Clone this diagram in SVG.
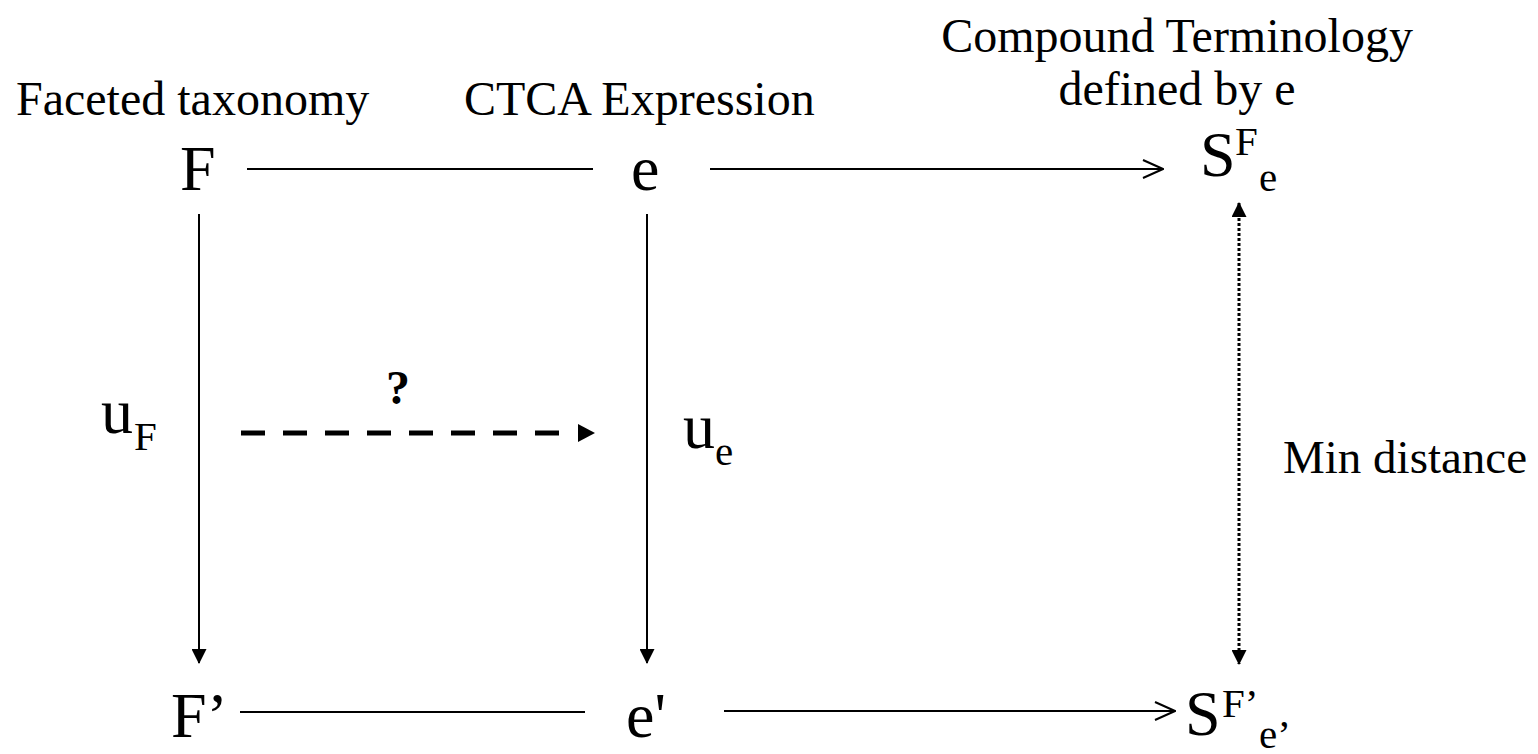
<svg xmlns="http://www.w3.org/2000/svg" width="1538" height="754" viewBox="0 0 1538 754" font-family="'Liberation Serif', 'Times New Roman', serif">
<style>
text{font-family:'Liberation Serif','Times New Roman',serif;fill:#000}
.big{font-size:64px}
.lab{font-size:48px}
.sm{font-size:41px}
.ln{stroke:#000;stroke-width:2;fill:none}
</style>
<defs>
<marker id="open" viewBox="0 0 22 20" refX="21" refY="10" markerWidth="22" markerHeight="20" markerUnits="userSpaceOnUse" orient="auto">
<path d="M1,1 L21,10 L1,19" fill="none" stroke="#000" stroke-width="2"/>
</marker>
<marker id="tri" viewBox="0 0 15 15" refX="14" refY="7.5" markerWidth="15" markerHeight="15" markerUnits="userSpaceOnUse" orient="auto-start-reverse">
<path d="M0,0 L15,7.5 L0,15 Z" fill="#000"/>
</marker>
</defs>
<g id="captions">
<text class="lab" x="16" y="115">Faceted taxonomy</text>
<text class="lab" x="464" y="115">CTCA Expression</text>
<text class="lab" x="1177" y="52" text-anchor="middle">Compound Terminology</text>
<text class="lab" x="1177" y="105" text-anchor="middle">defined by e</text>
</g>
<g id="node-F"><text class="big" x="180" y="190">F</text></g>
<g id="node-e"><text class="big" x="631" y="190">e</text></g>
<g id="node-SFe"><text class="big" x="1200" y="176">S</text><text class="sm" x="1235" y="155">F</text><text class="sm" x="1259" y="191">e</text></g>
<g id="node-F2"><text class="big" x="171" y="737">F’</text></g>
<g id="node-e2"><text class="big" x="626" y="737">e'</text></g>
<g id="node-SFe2"><text class="big" x="1185" y="735">S</text><text class="sm" x="1222" y="717">F’</text><text class="sm" x="1259" y="748">e’</text></g>
<g id="label-uF"><text class="big" x="101" y="433">u</text><text class="sm" x="134" y="450">F</text></g>
<g id="label-ue"><text class="big" x="683" y="448">u</text><text class="sm" x="715" y="465">e</text></g>
<g id="label-q"><text class="lab" x="386" y="404" font-weight="bold">?</text></g>
<g id="label-min"><text x="1283" y="473" font-size="47">Min distance</text></g>
<g id="connectors">
<line class="ln" x1="247" y1="169" x2="593" y2="169"/>
<line class="ln" x1="710" y1="169" x2="1163" y2="169" marker-end="url(#open)"/>
<line class="ln" x1="240" y1="712" x2="585" y2="712"/>
<line class="ln" x1="724" y1="711" x2="1175" y2="711" marker-end="url(#open)"/>
<line class="ln" x1="199" y1="214" x2="199" y2="663" marker-end="url(#tri)"/>
<line class="ln" x1="647" y1="214" x2="647" y2="663" marker-end="url(#tri)"/>
<line x1="241" y1="433" x2="559" y2="433" stroke="#000" stroke-width="5" stroke-dasharray="24 18"/>
<path d="M578,424 L595,433 L578,442 Z" fill="#000"/>
<line x1="1239" y1="203" x2="1239" y2="664" stroke="#000" stroke-width="3" stroke-dasharray="3 2" marker-start="url(#tri)" marker-end="url(#tri)"/>
</g>
</svg>
